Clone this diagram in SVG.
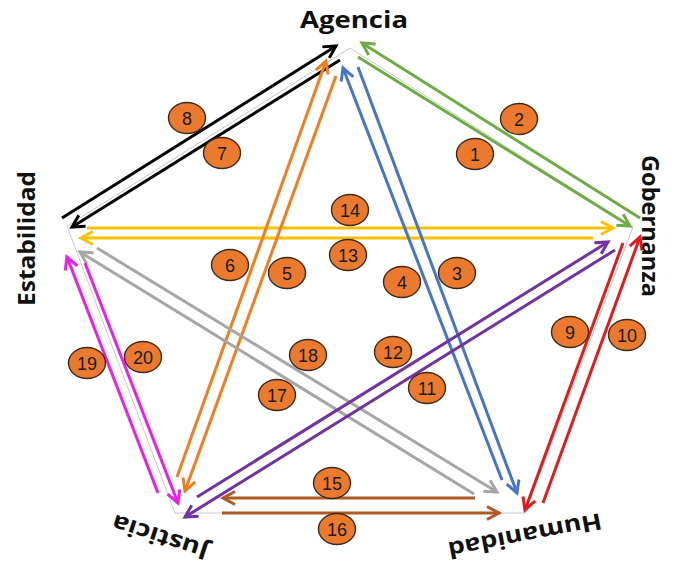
<svg xmlns="http://www.w3.org/2000/svg" width="683" height="566" viewBox="0 0 683 566">
<style>
.lbl{font-family:"Open Sans","Liberation Sans",sans-serif;font-weight:bold;font-size:23px;fill:#111}
.c{fill:#EB7A2E;stroke:#3d2a1c;stroke-width:1.4}
.n{font-family:"Liberation Sans","DejaVu Sans",sans-serif;font-size:18px;fill:#1a1a1a;text-anchor:middle}
.ln{fill:none;stroke-width:3}
.pent{fill:none;stroke:#c8c8c8;stroke-width:1}
</style>
<defs>
<marker id="mk-black" markerUnits="userSpaceOnUse" viewBox="-16 -10 20 20" markerWidth="20" markerHeight="20" refX="0" refY="0" orient="auto"><path d="M-12,-6.5 L0,0 L-12,6.5" fill="none" stroke="#000" stroke-width="3"/></marker>
<marker id="mk-green" markerUnits="userSpaceOnUse" viewBox="-16 -10 20 20" markerWidth="20" markerHeight="20" refX="0" refY="0" orient="auto"><path d="M-12,-6.5 L0,0 L-12,6.5" fill="none" stroke="#6FAC46" stroke-width="3"/></marker>
<marker id="mk-yellow" markerUnits="userSpaceOnUse" viewBox="-16 -10 20 20" markerWidth="20" markerHeight="20" refX="0" refY="0" orient="auto"><path d="M-12,-6.5 L0,0 L-12,6.5" fill="none" stroke="#FFC000" stroke-width="3"/></marker>
<marker id="mk-orange" markerUnits="userSpaceOnUse" viewBox="-16 -10 20 20" markerWidth="20" markerHeight="20" refX="0" refY="0" orient="auto"><path d="M-12,-6.5 L0,0 L-12,6.5" fill="none" stroke="#F07D1E" stroke-width="3"/></marker>
<marker id="mk-blue" markerUnits="userSpaceOnUse" viewBox="-16 -10 20 20" markerWidth="20" markerHeight="20" refX="0" refY="0" orient="auto"><path d="M-12,-6.5 L0,0 L-12,6.5" fill="none" stroke="#4675C8" stroke-width="3"/></marker>
<marker id="mk-gray" markerUnits="userSpaceOnUse" viewBox="-16 -10 20 20" markerWidth="20" markerHeight="20" refX="0" refY="0" orient="auto"><path d="M-12,-6.5 L0,0 L-12,6.5" fill="none" stroke="#A6A6A6" stroke-width="3"/></marker>
<marker id="mk-magenta" markerUnits="userSpaceOnUse" viewBox="-16 -10 20 20" markerWidth="20" markerHeight="20" refX="0" refY="0" orient="auto"><path d="M-12,-6.5 L0,0 L-12,6.5" fill="none" stroke="#EA1EEA" stroke-width="3"/></marker>
<marker id="mk-red" markerUnits="userSpaceOnUse" viewBox="-16 -10 20 20" markerWidth="20" markerHeight="20" refX="0" refY="0" orient="auto"><path d="M-12,-6.5 L0,0 L-12,6.5" fill="none" stroke="#E41B1B" stroke-width="3"/></marker>
<marker id="mk-purple" markerUnits="userSpaceOnUse" viewBox="-16 -10 20 20" markerWidth="20" markerHeight="20" refX="0" refY="0" orient="auto"><path d="M-12,-6.5 L0,0 L-12,6.5" fill="none" stroke="#7232A2" stroke-width="3"/></marker>
<marker id="mk-brown" markerUnits="userSpaceOnUse" viewBox="-16 -10 20 20" markerWidth="20" markerHeight="20" refX="0" refY="0" orient="auto"><path d="M-12,-6.5 L0,0 L-12,6.5" fill="none" stroke="#AE5A24" stroke-width="3"/></marker>
</defs>
<rect width="683" height="566" fill="#fff"/>
<polygon class="pent" points="350,48 633,227 525,513 175,513 67,226"/>

<g id="connectors">
<line class="ln" stroke="#000" x1="62" y1="218" x2="336" y2="46" marker-end="url(#mk-black)"/>
<line class="ln" stroke="#000" x1="340" y1="60" x2="72" y2="227" marker-end="url(#mk-black)"/>
<line class="ln" stroke="#6FAC46" x1="640" y1="218" x2="362" y2="43" marker-end="url(#mk-green)"/>
<line class="ln" stroke="#6FAC46" x1="358" y1="57" x2="630" y2="226" marker-end="url(#mk-green)"/>
<line class="ln" stroke="#FFC000" x1="87" y1="228" x2="613" y2="228" marker-end="url(#mk-yellow)"/>
<line class="ln" stroke="#FFC000" x1="593" y1="238" x2="81" y2="238" marker-end="url(#mk-yellow)"/>
<line class="ln" stroke="#F07D1E" x1="177" y1="477" x2="326" y2="61" marker-end="url(#mk-orange)"/>
<line class="ln" stroke="#F07D1E" x1="336" y1="76" x2="185" y2="491" marker-end="url(#mk-orange)"/>
<line class="ln" stroke="#4675C8" x1="358" y1="67" x2="517" y2="493" marker-end="url(#mk-blue)"/>
<line class="ln" stroke="#4675C8" x1="502" y1="480" x2="343" y2="68" marker-end="url(#mk-blue)"/>
<line class="ln" stroke="#A6A6A6" x1="474" y1="494" x2="80" y2="252" marker-end="url(#mk-gray)"/>
<line class="ln" stroke="#A6A6A6" x1="97" y1="248" x2="497" y2="492" marker-end="url(#mk-gray)"/>
<line class="ln" stroke="#EA1EEA" x1="158" y1="493" x2="67" y2="257" marker-end="url(#mk-magenta)"/>
<line class="ln" stroke="#EA1EEA" x1="85" y1="263" x2="178" y2="503" marker-end="url(#mk-magenta)"/>
<line class="ln" stroke="#E41B1B" x1="623" y1="243" x2="525" y2="510" marker-end="url(#mk-red)"/>
<line class="ln" stroke="#E41B1B" x1="543" y1="503" x2="640" y2="237" marker-end="url(#mk-red)"/>
<line class="ln" stroke="#7232A2" x1="197" y1="497" x2="608" y2="242" marker-end="url(#mk-purple)"/>
<line class="ln" stroke="#7232A2" x1="615" y1="250" x2="185" y2="517" marker-end="url(#mk-purple)"/>
<line class="ln" stroke="#AE5A24" x1="475" y1="498" x2="223" y2="498" marker-end="url(#mk-brown)"/>
<line class="ln" stroke="#AE5A24" x1="222" y1="513" x2="499" y2="513" marker-end="url(#mk-brown)"/>
</g>

<g id="node-agencia"><text class="lbl" x="300" y="28" textLength="108" lengthAdjust="spacingAndGlyphs">Agencia</text></g>
<g id="node-gobernanza"><text class="lbl" transform="translate(642,155) rotate(90)" textLength="142" lengthAdjust="spacingAndGlyphs">Gobernanza</text></g>
<g id="node-estabilidad"><text class="lbl" transform="translate(35,306) rotate(-90)" textLength="135" lengthAdjust="spacingAndGlyphs">Estabilidad</text></g>
<g id="node-justicia"><text class="lbl" transform="translate(210,545) rotate(198)" textLength="100" lengthAdjust="spacingAndGlyphs">Justicia</text></g>
<g id="node-humanidad"><text class="lbl" transform="translate(600,513) rotate(169)" textLength="156" lengthAdjust="spacingAndGlyphs">Humanidad</text></g>

<g id="badges">
<g id="b1"><ellipse class="c" cx="475" cy="154" rx="18.5" ry="15.5"/><text class="n" x="475" y="160.5">1</text></g>
<g id="b2"><ellipse class="c" cx="519" cy="119" rx="18.5" ry="15.5"/><text class="n" x="519" y="125.5">2</text></g>
<g id="b3"><ellipse class="c" cx="457" cy="273" rx="18.5" ry="15.5"/><text class="n" x="457" y="279.5">3</text></g>
<g id="b4"><ellipse class="c" cx="402" cy="282" rx="18.5" ry="15.5"/><text class="n" x="402" y="288.5">4</text></g>
<g id="b5"><ellipse class="c" cx="287" cy="273" rx="18.5" ry="15.5"/><text class="n" x="287" y="279.5">5</text></g>
<g id="b6"><ellipse class="c" cx="230" cy="265" rx="18.5" ry="15.5"/><text class="n" x="230" y="271.5">6</text></g>
<g id="b7"><ellipse class="c" cx="222" cy="153" rx="18.5" ry="15.5"/><text class="n" x="222" y="159.5">7</text></g>
<g id="b8"><ellipse class="c" cx="187" cy="118" rx="18.5" ry="15.5"/><text class="n" x="187" y="124.5">8</text></g>
<g id="b9"><ellipse class="c" cx="570" cy="332" rx="18.5" ry="15.5"/><text class="n" x="570" y="338.5">9</text></g>
<g id="b10"><ellipse class="c" cx="627" cy="335" rx="18.5" ry="15.5"/><text class="n" x="627" y="341.5">10</text></g>
<g id="b11"><ellipse class="c" cx="427" cy="388" rx="18.5" ry="15.5"/><text class="n" x="427" y="394.5">11</text></g>
<g id="b12"><ellipse class="c" cx="393" cy="352" rx="18.5" ry="15.5"/><text class="n" x="393" y="358.5">12</text></g>
<g id="b13"><ellipse class="c" cx="348" cy="255" rx="18.5" ry="15.5"/><text class="n" x="348" y="261.5">13</text></g>
<g id="b14"><ellipse class="c" cx="350" cy="210" rx="18.5" ry="15.5"/><text class="n" x="350" y="216.5">14</text></g>
<g id="b15"><ellipse class="c" cx="332" cy="483" rx="18.5" ry="15.5"/><text class="n" x="332" y="489.5">15</text></g>
<g id="b16"><ellipse class="c" cx="337" cy="529" rx="18.5" ry="15.5"/><text class="n" x="337" y="535.5">16</text></g>
<g id="b17"><ellipse class="c" cx="277" cy="395" rx="18.5" ry="15.5"/><text class="n" x="277" y="401.5">17</text></g>
<g id="b18"><ellipse class="c" cx="308" cy="355" rx="18.5" ry="15.5"/><text class="n" x="308" y="361.5">18</text></g>
<g id="b19"><ellipse class="c" cx="87" cy="363" rx="18.5" ry="15.5"/><text class="n" x="87" y="369.5">19</text></g>
<g id="b20"><ellipse class="c" cx="143" cy="357" rx="18.5" ry="15.5"/><text class="n" x="143" y="363.5">20</text></g>
</g>
</svg>
